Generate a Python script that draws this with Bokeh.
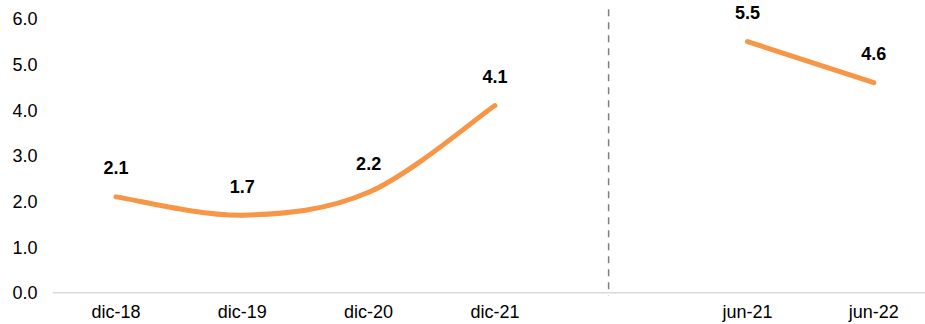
from bokeh.plotting import figure
from bokeh.models import FixedTicker, Range1d, Span, ColumnDataSource
from bokeh.core.properties import value
from bokeh.embed import file_html
from bokeh.resources import INLINE

# ---- data ----
categories_dic = ["dic-18", "dic-19", "dic-20", "dic-21"]
values_dic = [2.1, 1.7, 2.2, 4.1]
categories_jun = ["jun-21", "jun-22"]
values_jun = [5.5, 4.6]
y_ticks = [0, 1, 2, 3, 4, 5, 6]

# category slot positions (one empty slot between the groups)
x_dic = list(range(len(categories_dic)))
x_jun = [len(categories_dic) + 1 + i for i in range(len(categories_jun))]
sep_x = 3.9

ORANGE = "#F79646"
FONT = "Liberation Sans"

p = figure(width=925, height=324, output_backend="svg", toolbar_location=None,
           x_range=Range1d(-0.503, 6.409), y_range=Range1d(-0.125, 6.40),
           min_border_left=52, min_border_right=0, min_border_top=0,
           min_border_bottom=20)
p.outline_line_color = None
p.grid.visible = False
p.background_fill_color = "white"
p.border_fill_color = "white"

# smooth (Excel-like) curve through the "dic" points via cubic Bezier segments
pts = list(zip(x_dic, values_dic))
x0s, y0s, x1s, y1s, cx0s, cy0s, cx1s, cy1s = [], [], [], [], [], [], [], []
n = len(pts)
for i in range(n - 1):
    pm = pts[i - 1] if i > 0 else pts[i]
    pa = pts[i]
    pb = pts[i + 1]
    pn = pts[i + 2] if i + 2 < n else pts[i + 1]
    x0s.append(pa[0]); y0s.append(pa[1])
    x1s.append(pb[0]); y1s.append(pb[1])
    cx0s.append(pa[0] + (pb[0] - pm[0]) / 6.0)
    cy0s.append(pa[1] + (pb[1] - pm[1]) / 6.0)
    cx1s.append(pb[0] - (pn[0] - pa[0]) / 6.0)
    cy1s.append(pb[1] - (pn[1] - pa[1]) / 6.0)
p.bezier(x0=x0s, y0=y0s, x1=x1s, y1=y1s, cx0=cx0s, cy0=cy0s, cx1=cx1s, cy1=cy1s,
         line_color=ORANGE, line_width=5, line_cap="round")

p.line(x_jun, values_jun, line_color=ORANGE, line_width=5, line_cap="round")

# baseline and separator
p.add_layout(Span(location=0, dimension="width", line_color="#d9d9d9", line_width=1.5))
p.segment(x0=[sep_x], y0=[6.21], x1=[sep_x], y1=[-0.06], line_color="#7f7f7f",
          line_width=1.5, line_dash="7 6")

# data labels
lab_src = ColumnDataSource(dict(
    x=x_dic + x_jun,
    y=values_dic + values_jun,
    t=[f"{v:.1f}" for v in values_dic + values_jun],
))
p.text(x="x", y="y", text="t", source=lab_src, text_align="center",
       text_baseline="middle", y_offset=-29, text_font=value(FONT),
       text_font_size="18px", text_font_style="bold", text_color="#000000")

# axes
p.xaxis.ticker = FixedTicker(ticks=x_dic + x_jun)
p.xaxis.major_label_overrides = {x: c for x, c in zip(x_dic + x_jun, categories_dic + categories_jun)}
p.xaxis.axis_line_color = None
p.xaxis.major_tick_line_color = None
p.xaxis.minor_tick_line_color = None
p.xaxis.major_tick_out = 0
p.xaxis.major_label_standoff = 3
p.xaxis.major_label_text_font = FONT
p.xaxis.major_label_text_font_size = "18px"
p.xaxis.major_label_text_color = "#000000"

p.yaxis.ticker = FixedTicker(ticks=y_ticks)
p.yaxis.major_label_overrides = {t: f"{t:.1f}" for t in y_ticks}
p.yaxis.axis_line_color = None
p.yaxis.major_tick_line_color = None
p.yaxis.minor_tick_line_color = None
p.yaxis.major_tick_out = 0
p.yaxis.major_label_standoff = 15
p.yaxis.major_label_text_font = FONT
p.yaxis.major_label_text_font_size = "18px"
p.yaxis.major_label_text_color = "#000000"

open("out.html", "w").write(file_html(p, INLINE))
